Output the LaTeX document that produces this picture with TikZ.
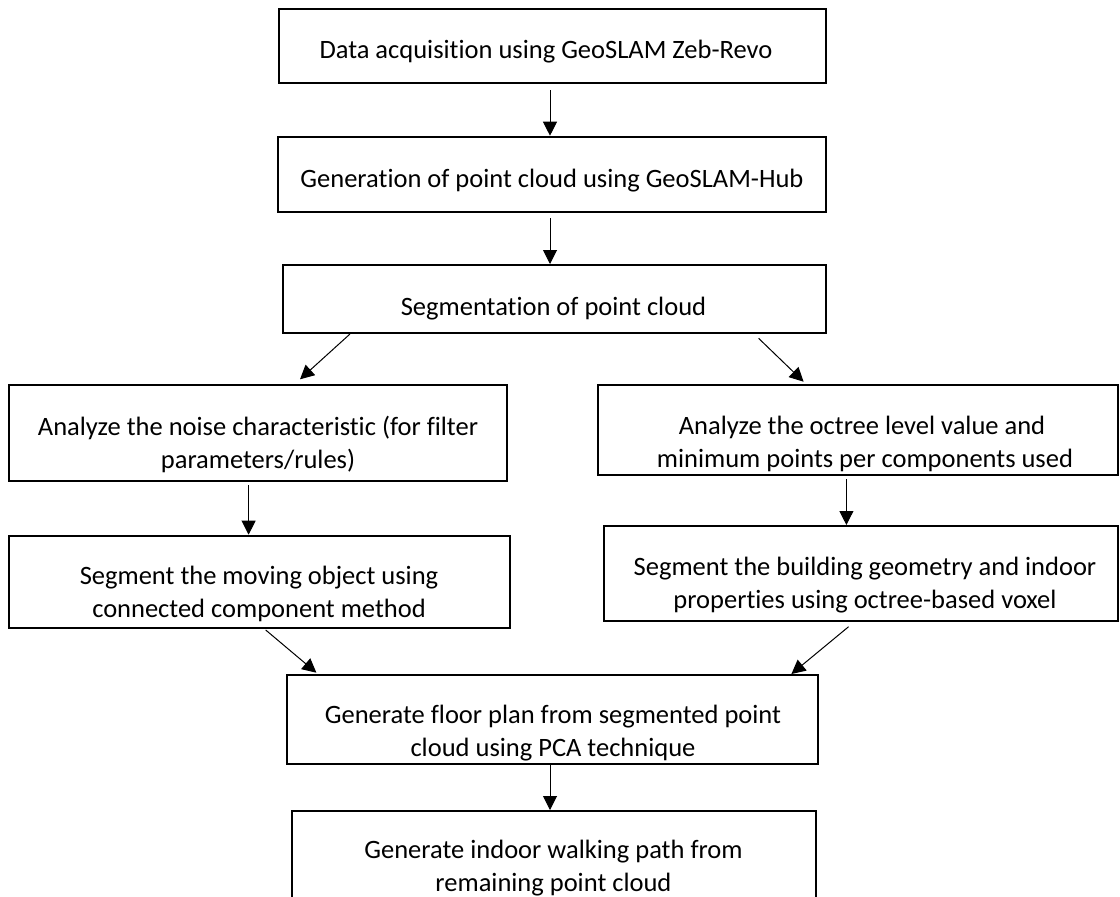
\documentclass[tikz,border=0pt]{standalone}
\usepackage{fontspec}
\setmainfont{Carlito}[Ligatures={NoCommon}]
\usetikzlibrary{arrows.meta}
\tikzset{
  box/.style={draw=black, line width=2pt, line join=miter, inner sep=0pt, fill=none},
  txt/.style={align=center, inner sep=0pt, font=\fontsize{26.5}{33}\selectfont},
  conn/.style={draw=black, line width=1pt, -{Triangle[length=14pt,width=14pt]}},
}
\begin{document}
\begin{tikzpicture}[x=1pt, y=-1pt]
\useasboundingbox (0,0) rectangle (1120,897);
\clip (0,0) rectangle (1120,897);
% boxes
\node[box, minimum width=547pt, minimum height=73.4pt] (b1) at (552.5,46) {};
\node[box, minimum width=548pt, minimum height=75.3pt] (b2) at (552,174.35) {};
\node[box, minimum width=543pt, minimum height=67.7pt] (b3) at (554.5,298.85) {};
\node[box, minimum width=498.4pt, minimum height=95.7pt] (b4) at (257.8,432.85) {};
\node[box, minimum width=520pt, minimum height=90pt] (b5) at (858,430) {};
\node[box, minimum width=501.4pt, minimum height=92.6pt] (b6) at (259.3,582) {};
\node[box, minimum width=514.4pt, minimum height=94.7pt] (b7) at (860.8,573.35) {};
\node[box, minimum width=531pt, minimum height=89.3pt] (b8) at (552.5,719.65) {};
\node[box, minimum width=524pt, minimum height=118pt] (b9) at (554,870) {};
% texts
\node[txt] (t1) at (546,52) {Data acquisition using GeoSLAM Zeb-Revo};
\node[txt] (t2) at (552,181) {Generation of point cloud using GeoSLAM-Hub};
\node[txt] (t3) at (553.5,309) {Segmentation of point cloud};
\node[txt] (t4) at (258,444.5) {Analyze the noise characteristic (for filter\\parameters/rules)};
\node[txt] (t5) at (862,444) {Analyze the octree level value and\\\ minimum points per components used};
\node[txt] (t6) at (259,594) {Segment the moving object using\\ connected component method};
\node[txt] (t7) at (865,585) {Segment the building geometry and indoor\\properties using octree-based voxel};
\node[txt] (t8) at (553,733) {Generate floor plan from segmented point\\cloud using PCA technique};
\node[txt] (t9) at (553.5,868) {Generate indoor walking path from\\remaining point cloud};
% connector start points
\coordinate (s1) at (550,90);
\coordinate (s2) at (550,218);
\coordinate (s3) at (350,334);
\coordinate (e3) at (300,379.3);
\coordinate (s4) at (758.6,338.3);
\coordinate (e4) at (803.6,381.7);
\coordinate (s5) at (248.6,485);
\coordinate (s6) at (846.4,479.3);
\coordinate (s7) at (265.7,630);
\coordinate (e7) at (316.4,672.7);
\coordinate (s8) at (848.6,626.7);
\coordinate (e8) at (791.4,674);
\coordinate (s9) at (550,765);
% connectors
\draw[conn] (s1) -- (s1 |- b2.north);
\draw[conn] (s2) -- (s2 |- b3.north);
\draw[conn] (s3) -- (e3);
\draw[conn] (s4) -- (e4);
\draw[conn] (s5) -- (s5 |- b6.north);
\draw[conn] (s6) -- (s6 |- b7.north);
\draw[conn] (s7) -- (e7);
\draw[conn] (s8) -- (e8);
\draw[conn] (s9) -- (s9 |- b9.north);
\end{tikzpicture}
\end{document}
